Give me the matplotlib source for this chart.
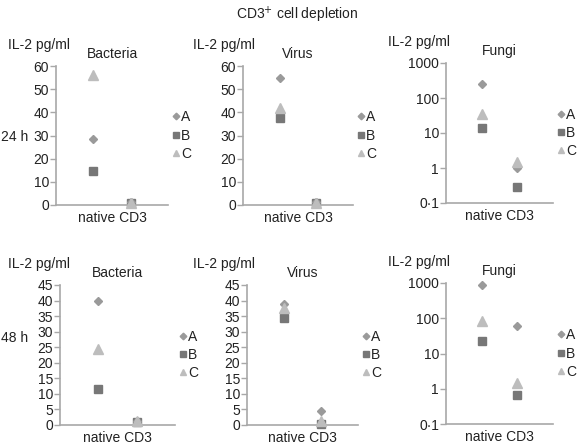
import matplotlib
matplotlib.use("Agg")
import matplotlib.pyplot as plt
from matplotlib.ticker import FixedLocator, NullLocator

plt.rcParams['font.family'] = ['Liberation Sans', 'DejaVu Sans']

W, H = 577, 446

groups = ["native", "CD3"]
donors = ["A", "B", "C"]
markers = {"A": "D", "B": "s", "C": "^"}
colors = {"A": "#9a9a9a", "B": "#777777", "C": "#bdbdbd"}
msizes = {"A": 4.5, "B": 6, "C": 6.5}

# 24 h values: [native, CD3]
bact_24 = {"A": [28.5, 1.2], "B": [14.5, 0.8], "C": [56, 1.0]}
virus_24 = {"A": [55, 1.2], "B": [37.5, 0.8], "C": [42, 1.0]}
fungi_24 = {"A": [250, 1.0], "B": [14, 0.28], "C": [35, 1.45]}
# 48 h values
bact_48 = {"A": [40, 1.3], "B": [11.5, 1.0], "C": [24.5, 1.2]}
virus_48 = {"A": [39, 4.6], "B": [34.5, 0.3], "C": [37.5, 1.3]}
fungi_48 = {"A": [900, 60], "B": [22, 0.65], "C": [85, 1.5]}

panels = [
    # data, title, pixel box (left, right, top, bottom), scale, ylim, ticks, ylabel offset
    (bact_24, "Bacteria", (56, 168, 66, 205), "linear", (0, 60), [0, 10, 20, 30, 40, 50, 60], 48),
    (virus_24, "Virus", (243, 353, 66, 205), "linear", (0, 60), [0, 10, 20, 30, 40, 50, 60], 50),
    (fungi_24, "Fungi", (446, 553, 63, 203), "log", (0.1, 1000), [0.1, 1, 10, 100, 1000], 58),
    (bact_48, "Bacteria", (60, 175, 285, 425), "linear", (0, 45), list(range(0, 50, 5)), 52),
    (virus_48, "Virus", (247, 358, 285, 425), "linear", (0, 45), list(range(0, 50, 5)), 54),
    (fungi_48, "Fungi", (446, 553, 283, 424), "log", (0.1, 1000), [0.1, 1, 10, 100, 1000], 58),
]

fig = plt.figure(figsize=(W / 100, H / 100), dpi=100)
axis_col = "#a8a8a8"
txt_col = "#222222"
fs = 10

for data, title, (l, r, t, b), scale, ylim, ticks, yl_off in panels:
    ax = fig.add_axes([l / W, (H - b) / H, (r - l) / W, (b - t) / H])
    for d in donors:
        ax.plot([0, 1], data[d], linestyle="none", marker=markers[d],
                color=colors[d], markersize=msizes[d], label=d, clip_on=False,
                zorder=3 if d != "B" else 2)
    ax.set_yscale(scale)
    ax.set_ylim(*ylim)
    ax.set_xlim(-1.0, 2.0)
    ax.yaxis.set_major_locator(FixedLocator(ticks))
    ax.yaxis.set_minor_locator(NullLocator())
    if scale == "log":
        ax.set_yticklabels(["0·1", "1", "10", "100", "1000"])
    else:
        ax.set_yticklabels([str(v) for v in ticks])
    ax.set_xticks([])
    for s in ["top", "right"]:
        ax.spines[s].set_visible(False)
    for s in ["left", "bottom"]:
        ax.spines[s].set_color(axis_col)
        ax.spines[s].set_linewidth(1.2)
    ax.tick_params(axis="y", direction="out", length=4, width=1, color=axis_col,
                   labelsize=fs, pad=1, labelcolor=txt_col)
    ax.set_xlabel("native CD3", fontsize=fs, labelpad=4, color=txt_col)
    ax.set_title(title, fontsize=fs, pad=6, color=txt_col)
    ax.text(-yl_off / (r - l), 1.10, "IL-2 pg/ml", transform=ax.transAxes,
            fontsize=fs, ha="left", va="bottom", color=txt_col)
    ax.legend(loc="center left", bbox_to_anchor=(1.0, 0.5), frameon=False,
              fontsize=fs, handlelength=0.5, handletextpad=0.15, labelspacing=0.3,
              borderaxespad=0.3, borderpad=0.0, markerscale=0.75, labelcolor=txt_col)

fig.text(1 / W, 1 - 137 / H, "24 h", fontsize=fs, va="center", color=txt_col)
fig.text(1 / W, 1 - 338 / H, "48 h", fontsize=fs, va="center", color=txt_col)
fig.text(297 / W, 1 - 15 / H, "CD3$^{+}$ cell depletion", fontsize=fs,
         ha="center", va="center", color=txt_col)

fig.savefig("out.png", dpi=100)
